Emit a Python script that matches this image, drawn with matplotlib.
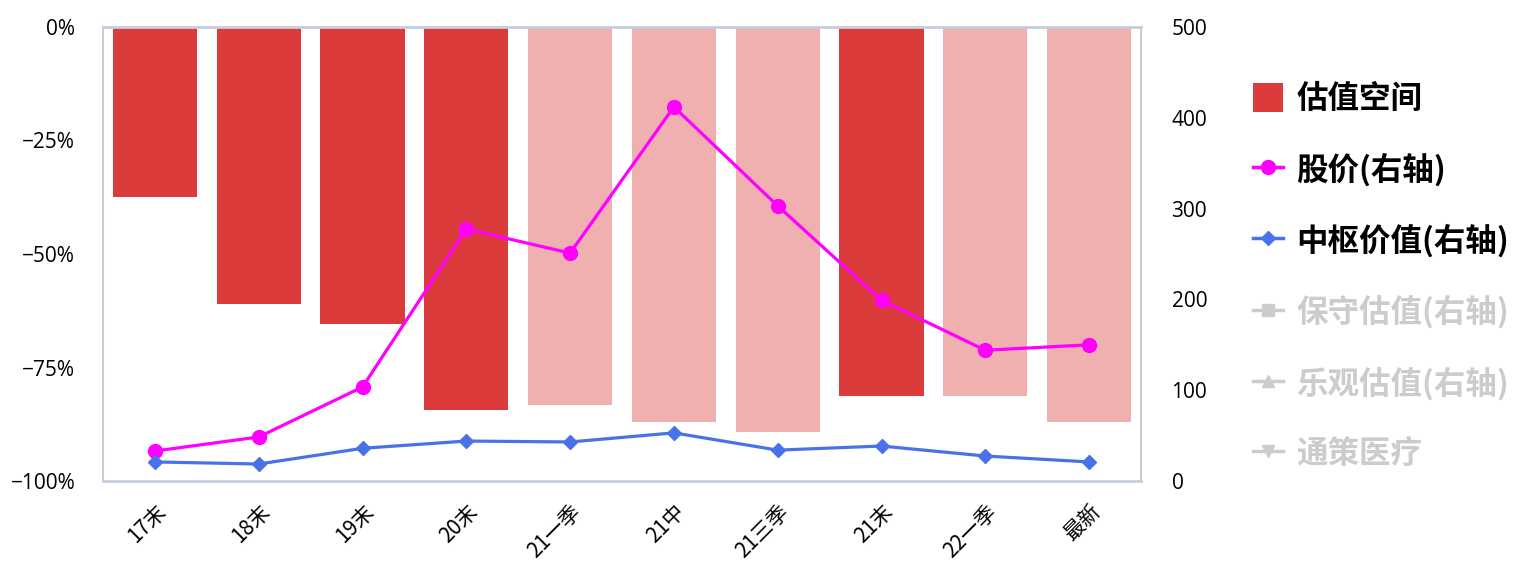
import matplotlib
matplotlib.use("Agg")
import matplotlib.pyplot as plt
from matplotlib.lines import Line2D
from matplotlib.patches import Patch
import numpy as np

plt.rcParams['font.family'] = ['Noto Sans CJK SC', 'DejaVu Sans']

categories = ["17末", "18末", "19末", "20末", "21一季", "21中", "21三季", "21末", "22一季", "最新"]
valuation_space = [-37.4, -61.0, -65.4, -84.4, -83.3, -87.0, -89.2, -81.3, -81.3, -87.0]
bar_light = [False, False, False, False, True, True, True, False, True, True]
stock_price = [33, 48.5, 103.5, 277.5, 251, 412, 303, 199, 144, 150]
center_value = [21, 18.7, 36, 44, 43, 53, 34, 38.5, 27.5, 21]
left_ticks = [0, -25, -50, -75, -100]
right_ticks = [0, 100, 200, 300, 400, 500]

DARK = "#DB3B3B"
LIGHT = "#F0B0B0"
MAGENTA = "#FF00FF"
BLUE = "#4A72E8"
GRAY = "#CCCCCC"

fig = plt.figure(figsize=(15.28, 5.76), dpi=100)
ax = fig.add_axes([103/1528, 1-481/576, (1141-103)/1528, (481-27)/576])
x = np.arange(len(categories))
colors = [LIGHT if l else DARK for l in bar_light]
ax.bar(x, valuation_space, width=0.81, color=colors, zorder=1)
ax.set_xlim(-0.5, len(categories)-0.5)
ax.set_ylim(-100, 0)
ax.set_yticks(left_ticks)
ax.set_yticklabels([f"{t}%".replace("-", "−") for t in left_ticks], fontsize=15, family='Open Sans')
ax.set_xticks(x)
ax.set_xticklabels(categories, rotation=45, ha='right', rotation_mode='anchor', fontsize=15)
ax.tick_params(axis='y', length=0, pad=20)
ax.tick_params(axis='x', length=0, pad=14)
for s in ['left', 'right']:
    ax.spines[s].set_color("#CCCCCC")
    ax.spines[s].set_linewidth(1.5)
for s in ['top', 'bottom']:
    ax.spines[s].set_color("#C5CEE0")
    ax.spines[s].set_linewidth(2)

ax2 = ax.twinx()
ax2.set_ylim(0, 500)
ax2.set_yticks(right_ticks)
ax2.set_yticklabels([str(t) for t in right_ticks], fontsize=15, family='Open Sans')
ax2.tick_params(axis='y', length=0, pad=22)
for s in ax2.spines.values():
    s.set_visible(False)
ax2.plot(x, stock_price, color=MAGENTA, lw=2.3, marker='o', markersize=10, zorder=3)
ax2.plot(x, center_value, color=BLUE, lw=2.3, marker='D', markersize=7, zorder=3)

handles = [
    Patch(facecolor=DARK, edgecolor='none'),
    Line2D([], [], color=MAGENTA, lw=2.5, marker='o', markersize=10),
    Line2D([], [], color=BLUE, lw=2.5, marker='D', markersize=7),
    Line2D([], [], color=GRAY, lw=2.5, marker='s', markersize=8),
    Line2D([], [], color=GRAY, lw=2.5, marker='^', markersize=8),
    Line2D([], [], color=GRAY, lw=2.5, marker='v', markersize=8),
]
labels = ["估值空间", "股价(右轴)", "中枢价值(右轴)", "保守估值(右轴)", "乐观估值(右轴)", "通策医疗"]
leg = fig.legend(handles, labels, loc='upper left', bbox_to_anchor=(1225/1528, 1-55/576),
                 frameon=False, prop={'size': 22.7, 'weight': 'bold'},
                 labelspacing=1.2, handlelength=0.95, handleheight=1.0, handletextpad=0.41)
for t, c in zip(leg.get_texts(), ['black', 'black', 'black', GRAY, GRAY, GRAY]):
    t.set_color(c)

fig.savefig("out.png", dpi=100)
